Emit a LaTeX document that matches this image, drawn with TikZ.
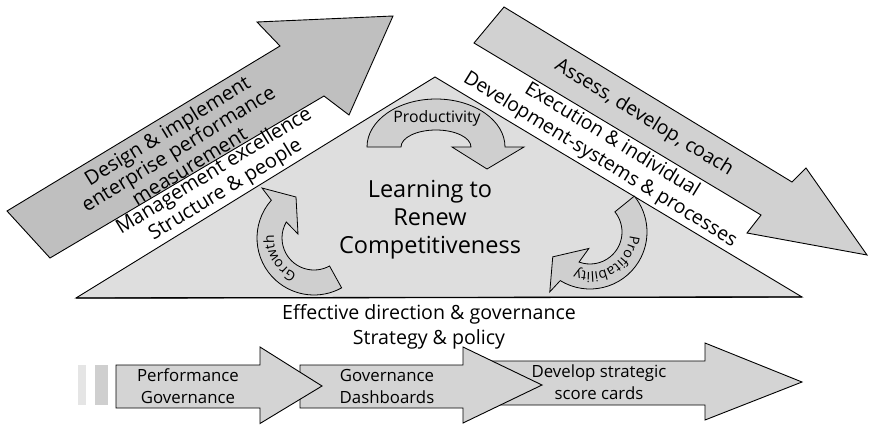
\documentclass[tikz,border=0pt]{standalone}
\usepackage{fontspec}
\setmainfont{Open Sans}
\usetikzlibrary{decorations.text}

\newcommand{\turnfont}{\fontsize{14}{16}\selectfont}
% one curved arrow around (0,0), head at the end of a clockwise turn
\newcommand{\turnpath}{(138.5:57) arc[start angle=138.5,end angle=299,radius=57] -- (299:32) arc[start angle=299,end angle=150,radius=32] -- (-16,4) -- (-18,41) -- (-52,50) -- cycle}

\tikzset{
  bigarrow/.style={draw=black,line width=0.9pt,line join=miter},
  cyclearrow/.style={draw=black,line width=0.8pt,fill=black!19},
  stagearrow/.style={draw=black,line width=0.9pt,fill=black!17},
  bandtext/.style={font=\fontsize{19.5}{23}\selectfont,align=center},
  stagetext/.style={font=\fontsize{16.8}{22}\selectfont,align=center},
}

\begin{document}
\begin{tikzpicture}[x=1pt,y=1pt]
\useasboundingbox (0,0) rectangle (869,424);
% triangle
\draw[line width=0.9pt,fill=black!13] (76,126) -- (435,347) -- (802,127) -- cycle;
\draw[line width=1.3pt] (76,126) -- (802,127);
% big arrows
\draw[bigarrow,fill=black!25] (7,213) -- (280,378) -- (257,402) -- (393,408) -- (349,309) -- (324,328) -- (50,166) -- cycle;
\draw[bigarrow,fill=black!18] (504,417) -- (792,242) -- (806,256) -- (867,169) -- (747,191) -- (761,209) -- (474,381) -- cycle;
\node[bandtext,font=\fontsize{20}{21}\selectfont,rotate=31.5] (design) at (178,276) {Design \& implement\\enterprise performance\\measurement};
\node[bandtext,font=\fontsize{20}{22}\selectfont,rotate=31.5] (mgmt) at (220,243) {Management excellence\\Structure \& people};
\node[bandtext,rotate=-31.5] (assess) at (644,306) {Assess, develop, coach};
\node[bandtext,rotate=-31.5] (exec) at (606,274) {Execution \& individual\\Development-systems \& processes};
% centre
\node[font=\fontsize{23.5}{28}\selectfont,align=center] (learn) at (430,204) {Learning to\\Renew\\Competitiveness};
% curved arrows
\draw[cyclearrow] (367,277) arc[start angle=180,end angle=0,x radius=69,y radius=48] -- (524,277) -- (487,255) -- (452,277) -- (471,277) arc[start angle=0,end angle=180,x radius=35,y radius=17] -- cycle;
\node[font=\fontsize{15.8}{18}\selectfont] (prod) at (437,306) {Productivity};
\begin{scope}[shift={(314,186)}]
\draw[cyclearrow] \turnpath;
\path[decorate,decoration={text along path,text align=center,text={|\turnfont|Growth}}] (252:40) arc[start angle=252,end angle=168,radius=40];
\end{scope}
\begin{scope}[shift={(590,192)},rotate=100]
\draw[cyclearrow] \turnpath;
\path[decorate,decoration={text along path,text align=center,text={|\turnfont|Profitability}}] (264:40) arc[start angle=264,end angle=140,radius=40];
\end{scope}
% base
\node[font=\fontsize{19.6}{25}\selectfont,align=center] (direction) at (429,97) {Effective direction \& governance\\Strategy \& policy};
% bottom arrows
\fill[black!10] (78,19) rectangle (86,59);
\fill[black!19] (95,19) rectangle (108,59);
\draw[stagearrow] (489,63) -- (705,63) -- (705,81) -- (802,42) -- (705,4) -- (705,19) -- (489,19) -- cycle;
\draw[stagearrow] (300,59) -- (463,59) -- (463,77) -- (542,39) -- (463,1) -- (463,16) -- (300,16) -- cycle;
\draw[stagearrow] (116,59) -- (260,59) -- (260,77) -- (322,38) -- (260,0.5) -- (260,16) -- (116,16) -- cycle;
\node[stagetext] (perf) at (188,37.5) {Performance\\Governance};
\node[stagetext] (dash) at (387,37.5) {Governance\\Dashboards};
\node[stagetext] (score) at (599,41.5) {Develop strategic\\score cards};
\end{tikzpicture}
\end{document}
